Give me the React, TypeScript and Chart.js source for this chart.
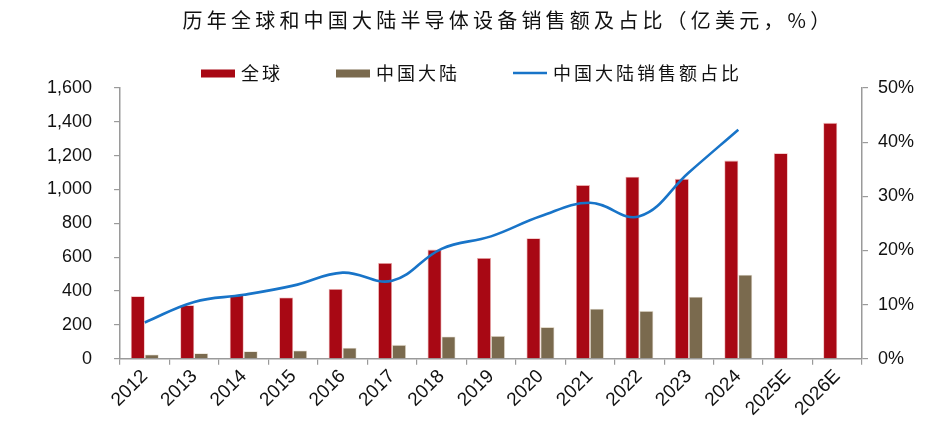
import React, { useEffect, useRef } from "react";
import { Chart, registerables } from "chart.js";

Chart.register(...registerables);

const TITLE = "历年全球和中国大陆半导体设备销售额及占比（亿美元，%）";
const categories = ["2012", "2013", "2014", "2015", "2016", "2017", "2018", "2019", "2020", "2021", "2022", "2023", "2024", "2025E", "2026E"];
const globalSales = [369, 316, 375, 362, 412, 566, 645, 596, 712, 1026, 1076, 1063, 1171, 1215, 1394];
const chinaSales = [25, 33, 44, 49, 65, 82, 131, 135, 187, 296, 283, 366, 496, null, null];
const chinaShare = [6.7, 10.5, 11.8, 13.5, 15.9, 14.4, 20.3, 22.6, 26.3, 28.8, 26.3, 34.4, 42.3, null, null];
const leftTicks = [0, 200, 400, 600, 800, 1000, 1200, 1400, 1600];
const rightTicks = [0, 10, 20, 30, 40, 50];

const RED = "#A80814";
const BROWN = "#7A6A4E";
const BLUE = "#1874C8";
const AXIS = "#9A9A9A";
const TEXT = "#111111";
const CJK = '"Noto Sans CJK SC", "Noto Sans", sans-serif';
const LATIN = '"Liberation Sans", Arial, sans-serif';

const headerPlugin = {
  id: "header",
  afterDraw(chart: any) {
    const ctx = chart.ctx as CanvasRenderingContext2D;
    const w = chart.width;
    ctx.save();
    ctx.fillStyle = TEXT;
    ctx.font = `20px ${CJK}`;
    (ctx as any).letterSpacing = "4.2px";
    ctx.textAlign = "center";
    ctx.textBaseline = "middle";
    ctx.fillText(TITLE, w / 2 + 36, 20);

    ctx.font = `18px ${CJK}`;
    (ctx as any).letterSpacing = "3px";
    ctx.textAlign = "left";
    const ds = chart.data.datasets;
    const boxW = 34;
    const textGap = 6;
    const itemGap = 53;
    const widths = ds.map((d: any) => ctx.measureText(d.label).width);
    let total = 0;
    ds.forEach((d: any, i: number) => {
      total += boxW + textGap + widths[i] + (i < ds.length - 1 ? itemGap : 0);
    });
    let x = w / 2 - total / 2 - 1;
    const y = 73;
    ds.forEach((d: any, i: number) => {
      if (d.type === "line") {
        ctx.strokeStyle = d.borderColor;
        ctx.lineWidth = 2.5;
        ctx.beginPath();
        ctx.moveTo(x, y);
        ctx.lineTo(x + boxW, y);
        ctx.stroke();
      } else {
        ctx.fillStyle = d.backgroundColor;
        ctx.fillRect(x, y - 3.5, boxW, 8);
      }
      ctx.fillStyle = TEXT;
      ctx.fillText(d.label, x + boxW + textGap, y);
      x += boxW + textGap + widths[i] + itemGap;
    });
    ctx.restore();
  },
};

export default function App() {
  const ref = useRef<HTMLCanvasElement | null>(null);

  useEffect(() => {
    document.body.style.margin = "0";
    const canvas = ref.current;
    if (!canvas) return;
    const chart = new Chart(canvas, {
      data: {
        labels: categories,
        datasets: [
          {
            type: "bar",
            label: "全球",
            data: globalSales,
            backgroundColor: RED,
            borderColor: "rgba(230,150,150,0.8)",
            borderWidth: 0.8,
            yAxisID: "y",
            order: 1,
          },
          {
            type: "bar",
            label: "中国大陆",
            data: chinaSales as any,
            backgroundColor: BROWN,
            borderColor: "rgba(220,210,190,0.8)",
            borderWidth: 0.8,
            yAxisID: "y",
            order: 1,
          },
          {
            type: "line",
            label: "中国大陆销售额占比",
            data: chinaShare as any,
            borderColor: BLUE,
            backgroundColor: BLUE,
            borderWidth: 2.6,
            pointRadius: 0,
            tension: 0.4,
            yAxisID: "y1",
            order: 0,
          },
        ],
      } as any,
      options: {
        animation: false,
        responsive: false,
        devicePixelRatio: 1,
        layout: { padding: { top: 88, left: 25, right: 21, bottom: 0 } },
        datasets: {
          bar: { categoryPercentage: 0.565, barPercentage: 1.0 },
        },
        plugins: {
          legend: { display: false },
          title: { display: false },
          tooltip: { enabled: false },
        },
        scales: {
          x: {
            offset: true,
            grid: {
              display: true,
              offset: true,
              drawOnChartArea: false,
              drawTicks: true,
              tickLength: 6,
              color: AXIS,
              lineWidth: 1.2,
            },
            border: { display: true, color: AXIS, width: 1.5 },
            ticks: {
              minRotation: 45,
              maxRotation: 45,
              padding: 3,
              color: TEXT,
              font: { family: LATIN, size: 19, lineHeight: 0.85 },
            },
          },
          y: {
            position: "left",
            min: 0,
            max: 1600,
            afterBuildTicks: (scale: any) => {
              scale.ticks = leftTicks.map((v) => ({ value: v }));
            },
            grid: {
              drawOnChartArea: false,
              drawTicks: true,
              tickLength: 6,
              color: AXIS,
              lineWidth: 1.2,
            },
            border: { display: true, color: AXIS, width: 1.5 },
            ticks: {
              padding: 22,
              color: TEXT,
              font: { family: LATIN, size: 18 },
              callback: (v: any) => Number(v).toLocaleString("en-US"),
            },
          },
          y1: {
            position: "right",
            min: 0,
            max: 50,
            afterBuildTicks: (scale: any) => {
              scale.ticks = rightTicks.map((v) => ({ value: v }));
            },
            grid: {
              drawOnChartArea: false,
              drawTicks: true,
              tickLength: 6,
              color: AXIS,
              lineWidth: 1.2,
            },
            border: { display: true, color: AXIS, width: 1.5 },
            ticks: {
              padding: 10,
              color: TEXT,
              font: { family: LATIN, size: 18 },
              callback: (v: any) => `${v}%`,
            },
          },
        },
      } as any,
      plugins: [headerPlugin],
    });
    return () => chart.destroy();
  }, []);

  return (
    <div style={{ width: 945, height: 421 }}>
      <canvas ref={ref} width={945} height={421} style={{ display: "block", width: 945, height: 421 }} />
    </div>
  );
}
